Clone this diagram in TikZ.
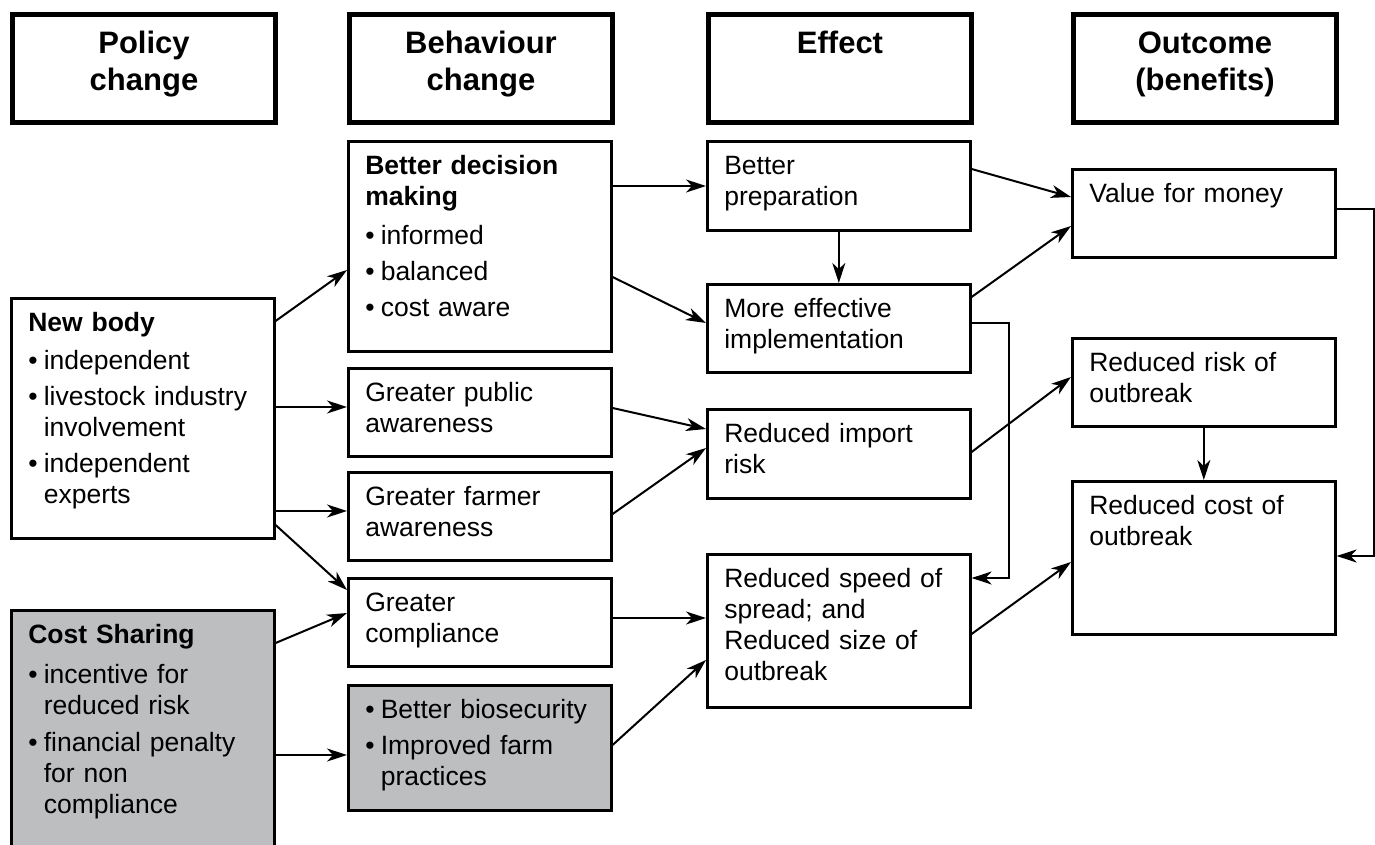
\documentclass[tikz,border=0pt]{standalone}
\usepackage{fontspec}
\setmainfont{Liberation Sans}
\usetikzlibrary{arrows.meta}
\definecolor{shade}{HTML}{BCBEC0}
\newcommand\bul{\makebox[15.5pt][l]{\textbullet}}
\newcommand\ind{\hspace*{15.5pt}}

\begin{document}
\begin{tikzpicture}[x=1pt,y=-1pt,
  head/.style={draw,line width=5pt,anchor=north west,text width=243pt,inner xsep=10pt,inner ysep=15pt,
    text height=24pt,text depth=54pt,align=center,font=\fontsize{31}{37}\selectfont\bfseries},
  cell/.style={draw,line width=2.6pt,anchor=north west,text width=229pt,inner xsep=17pt,inner ysep=13pt,
    text height=20pt,text depth=#1,align=left,font=\fontsize{26.5}{31}\selectfont},
  cell/.default=42pt,
  arr/.style={line width=2pt,-{Stealth[length=20pt,width=13pt,inset=6pt]}}]
\clip (0,0) rectangle (1375,845);

\node[head](pol) at (10,12){Policy\\change};
\node[head](beh) at (347,12){Behaviour\\change};
\node[head](eff) at (706,12){Effect};
\node[head](out) at (1071,12){Outcome\\(benefits)};

\node[cell=194pt](newb) at (10,297){\textbf{New body}\\[7pt]\bul independent\\[5pt]\bul livestock industry\\\ind involvement\\[5pt]\bul independent\\\ind experts};
\node[cell=214pt,fill=shade](cost) at (10,609){\textbf{Cost Sharing}\\[9pt]\bul incentive for\\\ind reduced risk\\[6pt]\bul financial penalty\\\ind for non\\\ind compliance};

\node[cell=164pt](dec) at (347,140){\textbf{Better decision}\\\textbf{making}\\[8pt]\bul informed\\[5pt]\bul balanced\\[5pt]\bul cost aware};
\node[cell](pub) at (347,367){Greater public\\awareness};
\node[cell](farm) at (347,471){Greater farmer\\awareness};
\node[cell](comp) at (347,577){Greater\\compliance};
\node[cell=79pt,fill=shade](bio) at (347,684){\bul Better biosecurity\\[5pt]\bul Improved farm\\\ind practices};

\node[cell=43pt](prep) at (706,140){Better\\preparation};
\node[cell](impl) at (706,283){More effective\\implementation};
\node[cell=43pt](imp) at (706,408){Reduced import\\risk};
\node[cell=107pt](spread) at (706,553){Reduced speed of\\spread; and\\Reduced size of\\outbreak};

\node[cell](val) at (1071,168){Value for money};
\node[cell](risk) at (1071,337){Reduced risk of\\outbreak};
\node[cell=107pt](costo) at (1071,480){Reduced cost of\\outbreak};

\draw[arr] ([yshift=-24pt]newb.north east) -- ([yshift=-130pt]dec.north west);
\draw[arr] ([yshift=-110pt]newb.north east) -- ([yshift=-40pt]pub.north west);
\draw[arr] ([yshift=-214pt]newb.north east) -- ([yshift=-40pt]farm.north west);
\draw[arr] ([yshift=-228pt]newb.north east) -- ([yshift=-13pt]comp.north west);
\draw[arr] ([yshift=-34pt]cost.north east) -- ([yshift=-36pt]comp.north west);
\draw[arr] ([yshift=-146pt]cost.north east) -- ([yshift=-71pt]bio.north west);

\draw[arr] ([yshift=-46pt]dec.north east) -- ([yshift=-46pt]prep.north west);
\draw[arr] ([yshift=-137pt]dec.north east) -- ([yshift=-40pt]impl.north west);
\draw[arr] ([yshift=-41pt]pub.north east) -- ([yshift=-21pt]imp.north west);
\draw[arr] ([yshift=-43pt]farm.north east) -- ([yshift=-40pt]imp.north west);
\draw[arr] ([yshift=-41pt]comp.north east) -- ([yshift=-65pt]spread.north west);
\draw[arr] ([yshift=-61pt]bio.north east) -- ([yshift=-107pt]spread.north west);

\draw[arr] (prep.south) -- (impl.north);
\draw[arr] ([yshift=-40pt]impl.north east) -- ++(37,0) |- ([yshift=-25pt]spread.north east);
\draw[arr] ([yshift=-29pt]prep.north east) -- ([yshift=-29pt]val.north west);
\draw[arr] ([yshift=-14pt]impl.north east) -- ([yshift=-58pt]val.north west);
\draw[arr] ([yshift=-44pt]imp.north east) -- ([yshift=-40pt]risk.north west);
\draw[arr] ([yshift=-81pt]spread.north east) -- ([yshift=-82pt]costo.north west);

\draw[arr] (risk.south) -- (costo.north);
\draw[arr] ([yshift=-41pt]val.north east) -- ++(37,0) |- ([yshift=-76pt]costo.north east);
\end{tikzpicture}
\end{document}
